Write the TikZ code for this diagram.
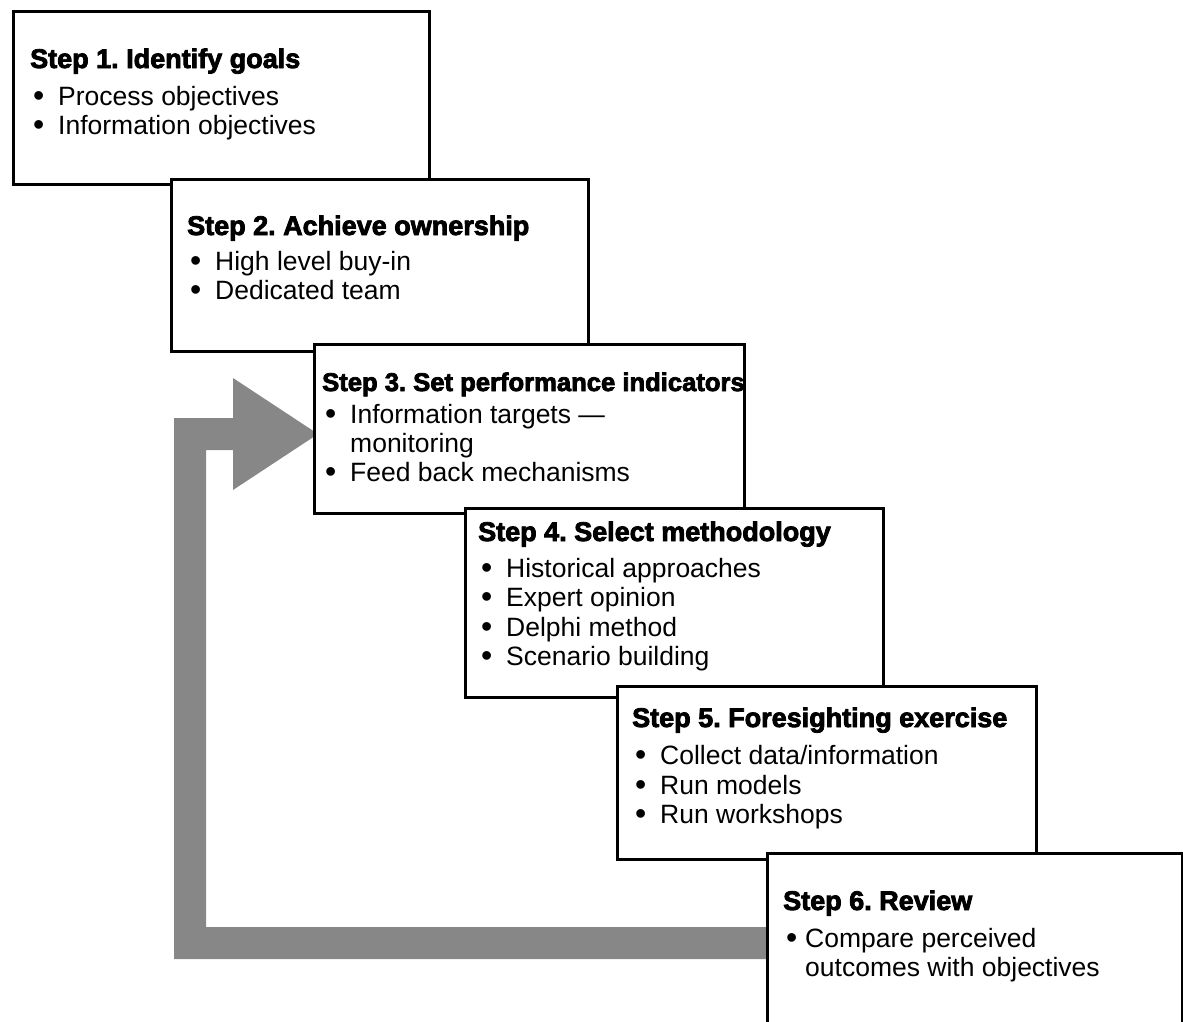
\documentclass[tikz,border=0pt]{standalone}
\usepackage{fontspec}
\setmainfont{Liberation Sans}
\newfontfamily\heavyfont[FakeBold=3]{Liberation Sans Bold}
\newcommand\bdot{\raisebox{-1.5pt}{\fontsize{32}{30}\selectfont •}}
\begin{document}
\frenchspacing
\begin{tikzpicture}[x=1pt,y=-1pt,
  stepframe/.style={draw=black, line width=2.6pt, fill=white, inner sep=0pt, anchor=north west},
  ttl/.style={anchor=base west, inner sep=0pt, font=\heavyfont\fontsize{27}{29}\selectfont},
  itm/.style={anchor=base west, inner sep=0pt, font=\fontsize{26.5}{29.5}\selectfont},
  loopfill/.style={fill=black!47}]
\useasboundingbox (0,0) rectangle (1183,1021);
\clip (0,0) rectangle (1183,1021);
% feedback arrow
\fill[loopfill] (318,434) -- (233,490) -- (233,450) -- (206,450) -- (206,927)
  -- (780,927) -- (780,959) -- (174,959) -- (174,418) -- (233,418) -- (233,378) -- cycle;
% boxes
\node[stepframe, minimum width=416pt, minimum height=173pt] (box1) at (12,10) {};
\node[ttl] (s1) at (30,68) {Step 1. Identify goals};
\node[itm] (d11) at (33,105) {\bdot};  \node[itm] (i11) at (58,105) {Process objectives};
\node[itm] (d12) at (33,134) {\bdot};  \node[itm] (i12) at (58,134) {Information objectives};

\node[stepframe, minimum width=417pt, minimum height=172pt] (box2) at (170,178) {};
\node[ttl] (s2) at (187,235) {Step 2. Achieve ownership};
\node[itm] (d21) at (190,270) {\bdot}; \node[itm] (i21) at (215,270) {High level buy-in};
\node[itm] (d22) at (190,299) {\bdot}; \node[itm] (i22) at (215,299) {Dedicated team};

\node[stepframe, minimum width=430pt, minimum height=169pt] (box3) at (313,343) {};
\node[ttl, font=\heavyfont\fontsize{25.6}{29}\selectfont] (s3) at (322,391) {Step 3. Set performance indicators};
\node[itm] (d31) at (325,423) {\bdot}; \node[itm] (i31) at (350,423) {Information targets —};
\node[itm] (i32) at (350,452) {monitoring};
\node[itm] (d33) at (325,481) {\bdot}; \node[itm] (i33) at (350,481) {Feed back mechanisms};

\node[stepframe, minimum width=418pt, minimum height=189pt] (box4) at (464,507) {};
\node[ttl] (s4) at (478,541) {Step 4. Select methodology};
\node[itm] (d41) at (481,577) {\bdot}; \node[itm] (i41) at (506,577) {Historical approaches};
\node[itm] (d42) at (481,606) {\bdot}; \node[itm] (i42) at (506,606) {Expert opinion};
\node[itm] (d43) at (481,636) {\bdot}; \node[itm] (i43) at (506,636) {Delphi method};
\node[itm] (d44) at (481,665) {\bdot}; \node[itm] (i44) at (506,665) {Scenario building};

\node[stepframe, minimum width=419pt, minimum height=173pt] (box5) at (616,685) {};
\node[ttl] (s5) at (632,727) {Step 5. Foresighting exercise};
\node[itm] (d51) at (635,764) {\bdot}; \node[itm] (i51) at (660,764) {Collect data/information};
\node[itm] (d52) at (635,794) {\bdot}; \node[itm] (i52) at (660,794) {Run models};
\node[itm] (d53) at (635,823) {\bdot}; \node[itm] (i53) at (660,823) {Run workshops};

\node[stepframe, minimum width=415pt, minimum height=220pt] (box6) at (766,852) {};
\node[ttl] (s6) at (783,910) {Step 6. Review};
\node[itm] (d61) at (786,947) {\bdot}; \node[itm] (i61) at (805,947) {Compare perceived};
\node[itm] (i62) at (805,976) {outcomes with objectives};
\end{tikzpicture}
\end{document}
